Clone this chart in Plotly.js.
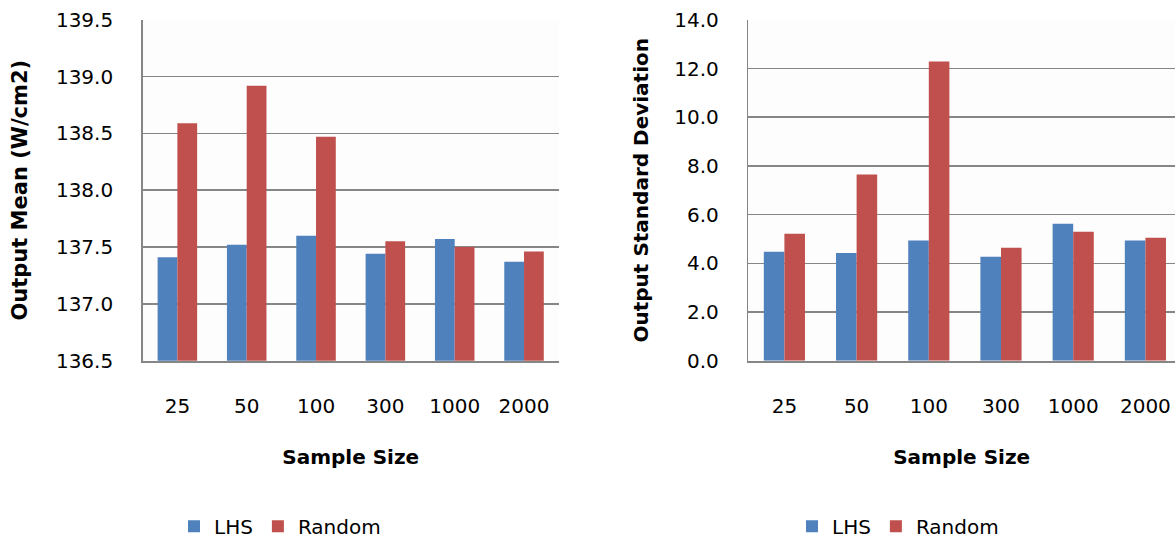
<!DOCTYPE html>
<html>
<head>
<meta charset="utf-8">
<script src="https://cdn.plot.ly/plotly-3.0.1.min.js"></script>
<style>html,body{margin:0;padding:0;background:#fff;}#chart{width:1175px;height:546px;}</style>
</head>
<body>
<div id="chart"></div>
<script>
const categories = ["25", "50", "100", "300", "1000", "2000"];
const meanLHS = [137.41, 137.52, 137.60, 137.44, 137.57, 137.37];
const meanRandom = [138.59, 138.92, 138.47, 137.55, 137.50, 137.46];
const sdLHS = [4.47, 4.42, 4.94, 4.27, 5.62, 4.94];
const sdRandom = [5.21, 7.65, 12.29, 4.64, 5.30, 5.05];
const seriesNames = ["LHS", "Random"];
const leftYTitle = "Output Mean (W/cm2)";
const rightYTitle = "Output Standard Deviation";
const xTitle = "Sample Size";

const blue = "#4F81BD", red = "#C0504D";
const fontFam = "DejaVu Sans, Arial, sans-serif";
const gridCol = "#868686";

const traces = [
  {type: "bar", x: categories, y: meanLHS, name: seriesNames[0], marker: {color: blue}, xaxis: "x", yaxis: "y", legend: "legend"},
  {type: "bar", x: categories, y: meanRandom, name: seriesNames[1], marker: {color: red}, xaxis: "x", yaxis: "y", legend: "legend"},
  {type: "bar", x: categories, y: sdLHS, name: seriesNames[0], marker: {color: blue}, xaxis: "x2", yaxis: "y2", legend: "legend2"},
  {type: "bar", x: categories, y: sdRandom, name: seriesNames[1], marker: {color: red}, xaxis: "x2", yaxis: "y2", legend: "legend2"}
];

const yDom = [1 - 364/546, 1 - 20/546];
const xAxisBase = {
  type: "category", showgrid: false, showline: true, linecolor: gridCol, linewidth: 2,
  ticks: "", ticklabelstandoff: 26, tickfont: {family: fontFam, size: 20, color: "#000"},
  title: {text: xTitle, font: {family: fontFam, size: 20, color: "#000", weight: "bold"}, standoff: 33},
  automargin: false, fixedrange: true
};
const yAxisBase = {
  showgrid: true, gridcolor: gridCol, gridwidth: 1.5, showline: true, linecolor: gridCol, linewidth: 1.5,
  ticks: "", ticklabelstandoff: 24, tickformat: ".1f", zeroline: false,
  tickfont: {family: fontFam, size: 20, color: "#000"}, automargin: false, fixedrange: true
};

const layout = {
  width: 1175, height: 546,
  margin: {l: 0, r: 0, t: 0, b: 0},
  paper_bgcolor: "#ffffff", plot_bgcolor: "#fdfdfd",
  barmode: "group", bargap: 0.43, bargroupgap: 0,
  showlegend: true,
  xaxis: Object.assign({}, xAxisBase, {domain: [142.7/1175, 558.7/1175], anchor: "y", range: [-0.5, 5.5]}),
  yaxis: Object.assign({}, yAxisBase, {domain: yDom, anchor: "x", range: [136.5, 139.5], dtick: 0.5,
    title: {text: leftYTitle, font: {family: fontFam, size: 21, color: "#000", weight: "bold"}, standoff: 22}}),
  xaxis2: Object.assign({}, xAxisBase, {domain: [748.3/1175, 1], anchor: "y2", range: [-0.5, 5.41]}),
  yaxis2: Object.assign({}, yAxisBase, {domain: yDom, anchor: "x2", range: [0, 14], dtick: 2,
    title: {text: rightYTitle, font: {family: fontFam, size: 20, color: "#000", weight: "bold"}, standoff: 20}}),
  legend: {orientation: "h", x: 174/1175, xanchor: "left", y: 1 - 531/546, yanchor: "middle",
    font: {family: fontFam, size: 20, color: "#000"}, bgcolor: "rgba(0,0,0,0)", itemwidth: 30},
  legend2: {orientation: "h", x: 792/1175, xanchor: "left", y: 1 - 531/546, yanchor: "middle",
    font: {family: fontFam, size: 20, color: "#000"}, bgcolor: "rgba(0,0,0,0)", itemwidth: 30}
};

Plotly.newPlot("chart", traces, layout, {displayModeBar: false, staticPlot: true});
</script>
</body>
</html>
